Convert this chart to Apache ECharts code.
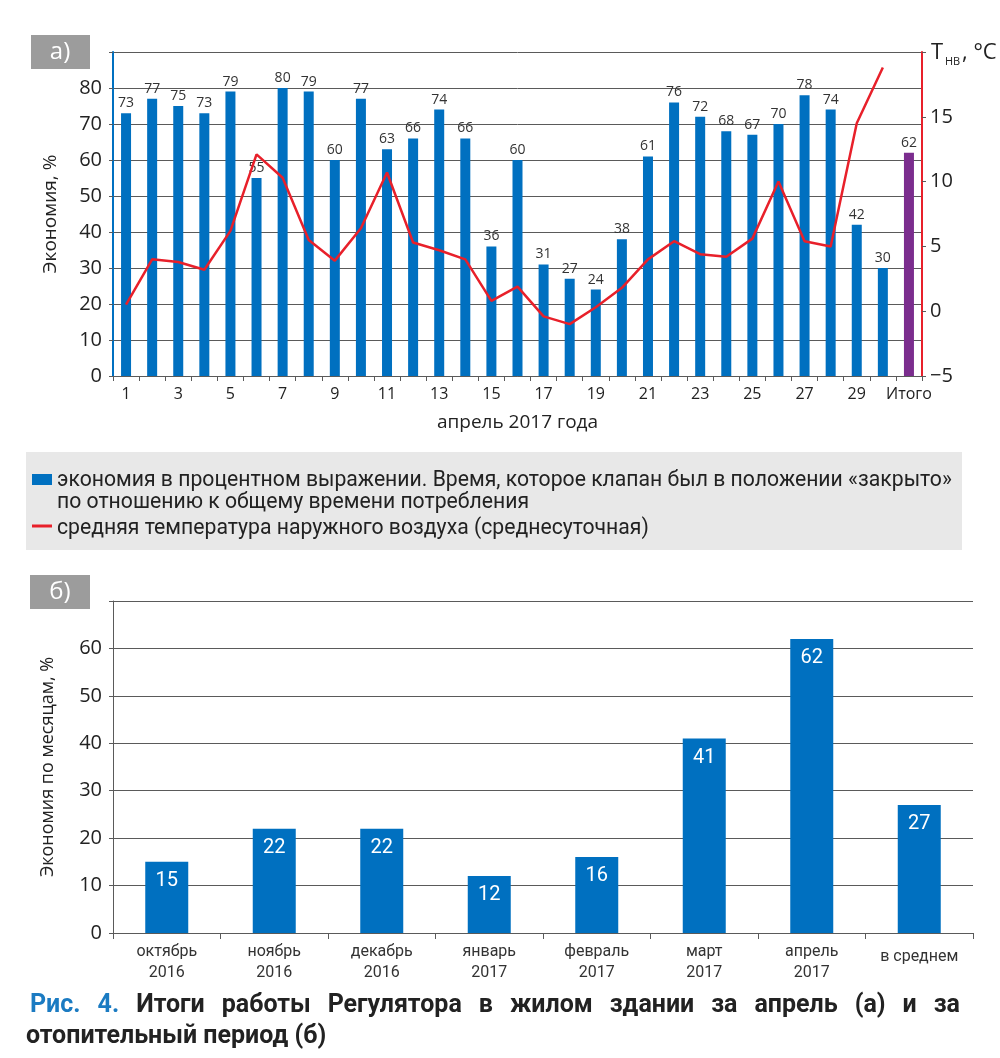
<!DOCTYPE html>
<html><head><meta charset="utf-8">
<script src="https://cdn.jsdelivr.net/npm/echarts@6/dist/echarts.min.js"></script>
<style>html,body{margin:0;padding:0;background:#fff}#c{width:1000px;height:1058px}</style>
</head><body><div id="c"></div>
<script>
// ---- Data (chart a) ----
const dayCategories = ['1','2','3','4','5','6','7','8','9','10','11','12','13','14','15','16','17','18','19','20','21','22','23','24','25','26','27','28','29','30','Итого'];
const savingsApril = [73,77,75,73,79,55,80,79,60,77,63,66,74,66,36,60,31,27,24,38,61,76,72,68,67,70,78,74,42,30,62];
const tempApril = [0.5,4.0,3.8,3.2,6.2,12.1,10.3,5.5,3.9,6.4,10.7,5.3,4.7,4.0,0.8,1.9,-0.4,-1.0,0.3,1.8,4.0,5.4,4.4,4.2,5.6,10.0,5.4,5.0,14.5,18.8,null];
// ---- Data (chart b) ----
const monthCategories = ['октябрь\n2016','ноябрь\n2016','декабрь\n2016','январь\n2017','февраль\n2017','март\n2017','апрель\n2017','в среднем'];
const savingsMonthly = [15,22,22,12,16,41,62,27];

const BLUE = '#0070c0', PURPLE = '#7b2d8e', RED = '#e8202a', GRID = '#5a5a5a';
const FONT = '"Open Sans", "Noto Sans", sans-serif';
const NARROW = 'Roboto, sans-serif';

const chart = echarts.init(document.getElementById('c'), null, {renderer: 'canvas'});

const barDataA = savingsApril.map((v, i) => i === savingsApril.length - 1 ? {value: v, itemStyle: {color: PURPLE}} : v);

// justified caption line 1
const capWords = ['Рис.', '4.', 'Итоги', 'работы', 'Регулятора', 'в', 'жилом', 'здании', 'за', 'апрель', '(а)', 'и', 'за'];
const capFont = 'bold 25px Roboto';
const mctx = document.createElement('canvas').getContext('2d');
mctx.font = capFont;
const widths = capWords.map(w => mctx.measureText(w).width);
const capLeft = 30, capRight = 960;
const gap = (capRight - capLeft - widths.reduce((a, b) => a + b, 0)) / (capWords.length - 1);
let cx = capLeft;
const capGraphics = capWords.map((w, i) => {
  const el = {type: 'text', x: cx, y: 1006, style: {text: w, fill: i < 2 ? '#1b7bc2' : '#222', font: capFont, verticalAlign: 'middle'}};
  cx += widths[i] + gap;
  return el;
});

const legendText = (t, y) => ({type: 'text', x: 57, y: y, scaleX: 0.963, style: {text: t, fill: '#222', fontSize: 22, fontFamily: NARROW, verticalAlign: 'middle'}});

chart.setOption({
  animation: false,
  textStyle: {fontFamily: FONT},
  grid: [
    {left: 113, right: 78, top: 52, height: 324},
    {left: 113, right: 27, top: 601, height: 332}
  ],
  xAxis: [
    {
      type: 'category', gridIndex: 0, data: dayCategories,
      name: 'апрель 2017 года', nameLocation: 'middle', nameGap: 37,
      nameTextStyle: {fontSize: 19, color: '#222', fontFamily: FONT},
      axisLine: {lineStyle: {color: GRID, width: 1}},
      axisTick: {show: true, interval: 0, length: 5, lineStyle: {color: GRID}},
      axisLabel: {interval: 1, fontSize: 16, color: '#222', margin: 10}
    },
    {
      type: 'category', gridIndex: 1, data: monthCategories,
      axisLine: {lineStyle: {color: GRID, width: 1}},
      axisTick: {show: true, interval: 0, length: 6, lineStyle: {color: GRID}},
      axisLabel: {interval: 0, fontSize: 16, color: '#333', fontFamily: NARROW, lineHeight: 21, margin: 8,
        formatter: v => v === 'в среднем' ? '{m|' + v + '}' : v,
        rich: {m: {fontSize: 16, color: '#333', fontFamily: NARROW, padding: [11, 0, 0, 0]}}
      }
    }
  ],
  yAxis: [
    {
      type: 'value', gridIndex: 0, min: 0, max: 90, interval: 10,
      name: 'Экономия, %', nameLocation: 'middle', nameGap: 53,
      nameTextStyle: {fontSize: 19, color: '#222'},
      axisLine: {show: true, lineStyle: {color: BLUE, width: 2}},
      axisTick: {show: true, length: 4, lineStyle: {color: GRID}},
      axisLabel: {fontSize: 20, color: '#222', margin: 11, formatter: v => v === 90 ? '' : v},
      splitLine: {lineStyle: {color: GRID, width: 1}}
    },
    {
      type: 'value', gridIndex: 0, min: -5, max: 20, interval: 5, position: 'right',
      axisLine: {show: true, lineStyle: {color: RED, width: 2}},
      axisTick: {show: true, length: 4, lineStyle: {color: GRID}},
      axisLabel: {fontSize: 20, color: '#222', margin: 8, formatter: v => v === 20 ? '' : (v < 0 ? '−' + Math.abs(v) : v)},
      splitLine: {show: false}
    },
    {
      type: 'value', gridIndex: 1, min: 0, max: 70, interval: 10,
      name: 'Экономия по месяцам, %', nameLocation: 'middle', nameGap: 56,
      nameTextStyle: {fontSize: 18, color: '#222'},
      axisLine: {show: true, lineStyle: {color: GRID, width: 1}},
      axisTick: {show: true, length: 4, lineStyle: {color: GRID}},
      axisLabel: {fontSize: 20, color: '#222', margin: 11, formatter: v => v === 70 ? '' : v},
      splitLine: {lineStyle: {color: GRID, width: 1}}
    }
  ],
  series: [
    {
      type: 'bar', xAxisIndex: 0, yAxisIndex: 0, data: barDataA, barWidth: 10,
      itemStyle: {color: BLUE},
      label: {show: true, position: 'top', distance: 3, fontSize: 14, color: '#333'},
      z: 2
    },
    {
      type: 'line', xAxisIndex: 0, yAxisIndex: 1, data: tempApril, showSymbol: false, symbol: 'none',
      lineStyle: {color: RED, width: 2.5}, connectNulls: false, z: 5
    },
    {
      type: 'bar', xAxisIndex: 1, yAxisIndex: 2, data: savingsMonthly, barWidth: 43,
      itemStyle: {color: BLUE},
      label: {show: true, position: 'insideTop', distance: 9, fontSize: 20, color: '#fff', fontFamily: NARROW}
    }
  ],
  graphic: [
    {type: 'rect', shape: {x: 31, y: 35, width: 59, height: 34}, style: {fill: '#9c9c9c'}},
    {type: 'text', x: 60, y: 52, style: {text: 'а)', fill: '#fff', fontSize: 24, fontFamily: FONT, align: 'center', verticalAlign: 'middle'}},
    {type: 'text', x: 931, y: 53, style: {text: 'T', fill: '#222', fontSize: 22, fontFamily: FONT, verticalAlign: 'middle'}},
    {type: 'text', x: 945, y: 62, style: {text: 'НВ', fill: '#222', fontSize: 11, fontFamily: FONT, verticalAlign: 'middle'}},
    {type: 'text', x: 962, y: 53, style: {text: ', °C', fill: '#222', fontSize: 22, fontFamily: FONT, verticalAlign: 'middle'}},
    {type: 'rect', shape: {x: 26, y: 452, width: 936, height: 98}, style: {fill: '#e8e8e8'}},
    {type: 'rect', shape: {x: 32, y: 474, width: 20, height: 11}, style: {fill: BLUE}},
    {type: 'line', shape: {x1: 32, y1: 526, x2: 52, y2: 526}, style: {stroke: RED, lineWidth: 3}},
    legendText('экономия в процентном выражении. Время, которое клапан был в положении «закрыто»', 480),
    legendText('по отношению к общему времени потребления', 502),
    legendText('средняя температура наружного воздуха (среднесуточная)', 528),
    {type: 'rect', shape: {x: 30, y: 575, width: 60, height: 34}, style: {fill: '#9c9c9c'}},
    {type: 'text', x: 60, y: 592, style: {text: 'б)', fill: '#fff', fontSize: 24, fontFamily: FONT, align: 'center', verticalAlign: 'middle'}},
    ...capGraphics,
    {type: 'text', x: 26, y: 1037, style: {text: 'отопительный период (б)', fill: '#222', font: capFont, verticalAlign: 'middle'}}
  ]
});
</script></body></html>
